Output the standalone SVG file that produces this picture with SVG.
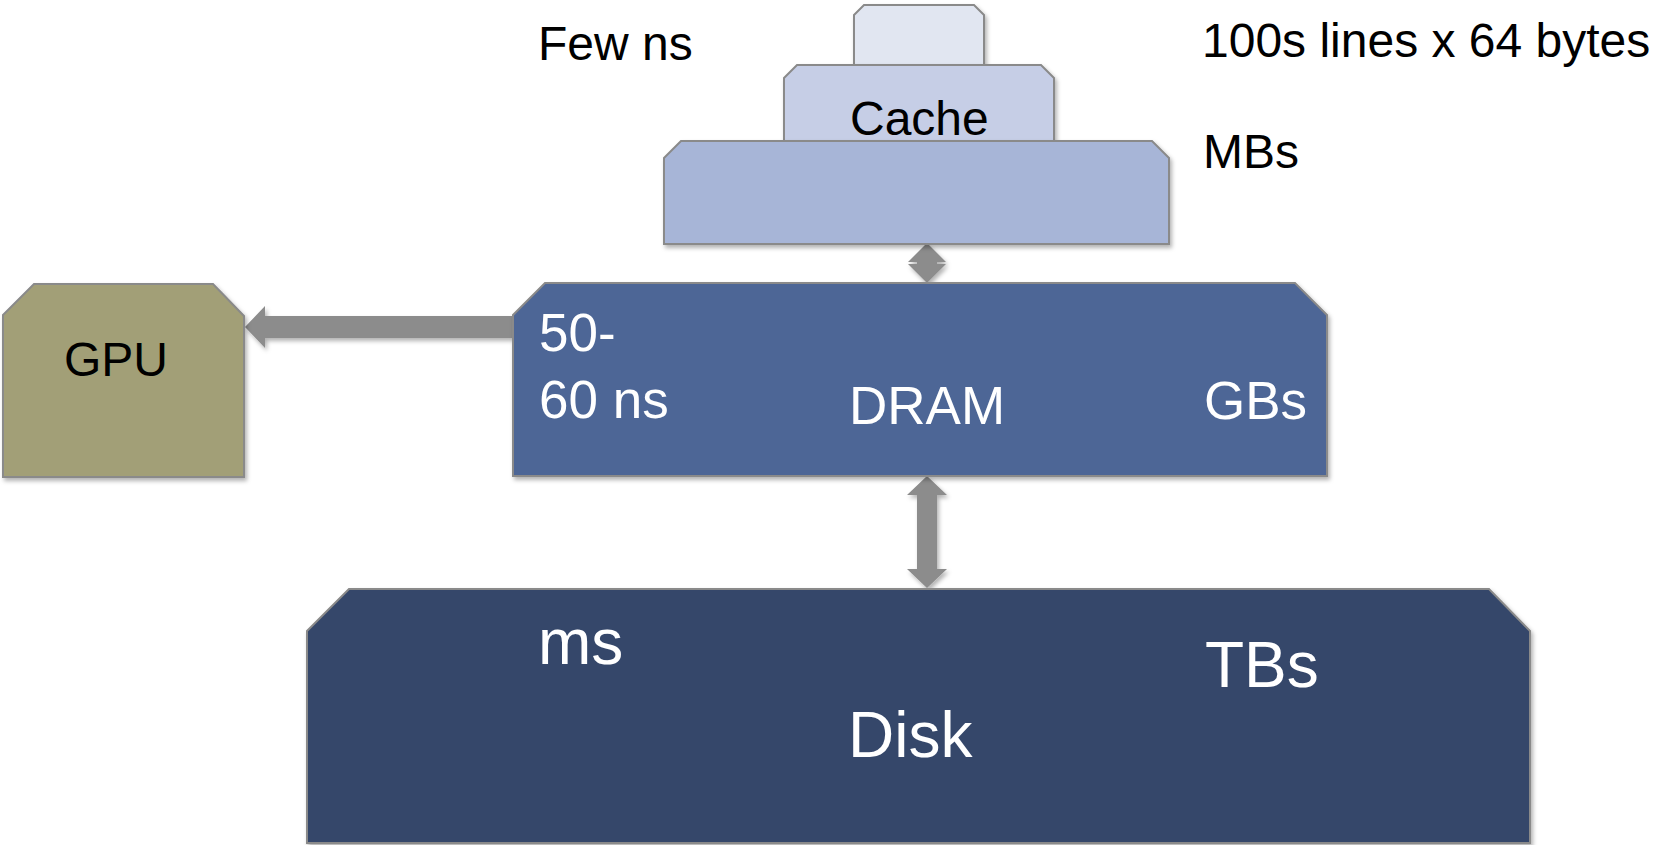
<svg xmlns="http://www.w3.org/2000/svg" width="1654" height="845" viewBox="0 0 1654 845">
  <style>
    .box { stroke: #8a8a8a; stroke-width: 2; filter: url(#shadow); }
    .lbl { font-family: "Liberation Sans", Arial, sans-serif; }
    .dark { fill: #000000; font-size: 48px; }
    .w53 { fill: #ffffff; font-size: 53px; }
    .w65 { fill: #ffffff; font-size: 64px; }
    .arrow { fill: #8c8c8c; filter: url(#shadow); }
  </style>
  <defs>
    <filter id="shadow" x="-10%" y="-10%" width="130%" height="130%">
      <feDropShadow dx="2" dy="3" stdDeviation="2" flood-color="#000000" flood-opacity="0.3"/>
    </filter>
  </defs>
  <rect width="1654" height="845" fill="#ffffff"/>

  <g id="connectors">
    <!-- DRAM to GPU -->
    <polygon class="arrow" points="513,316 265,316 265,306 245,327 265,348 265,338 513,338"/>
    <!-- Cache <-> DRAM -->
    <polygon class="arrow" points="927,243 946,262 937,262 937,264 946,264 927,283 908,264 917,264 917,262 908,262"/>
    <!-- DRAM <-> Disk -->
    <polygon class="arrow" points="927,476 947,495 937,495 937,569 947,569 927,588 907,569 917,569 917,495 907,495"/>
  </g>

  <g id="cache-l1">
    <polygon class="box" fill="#e1e6f1" points="854,15 864,5 974,5 984,15 984,65 854,65"/>
  </g>
  <g id="cache-l2">
    <polygon class="box" fill="#c6cee6" points="784,78 797,65 1041,65 1054,78 1054,141 784,141"/>
    <text class="lbl dark" x="850" y="135">Cache</text>
  </g>
  <g id="cache-l3">
    <polygon class="box" fill="#a7b5d7" points="664,158 681,141 1152,141 1169,158 1169,244 664,244"/>
  </g>

  <g id="gpu">
    <polygon class="box" fill="#a29f77" points="3,315 34,284 213,284 244,316 244,477 3,477"/>
    <text class="lbl dark" x="64" y="376">GPU</text>
  </g>

  <g id="dram">
    <polygon class="box" fill="#4e6696" points="513,315 545,283 1295,283 1327,315 1327,476 513,476"/>
    <text class="lbl w53" x="539" y="351">50-</text>
    <text class="lbl w53" x="539" y="418">60 ns</text>
    <text class="lbl w53" x="849" y="424">DRAM</text>
    <text class="lbl w53" x="1204" y="419">GBs</text>
  </g>

  <g id="disk">
    <polygon class="box" fill="#35476a" points="307,631 349,589 1489,589 1530,631 1530,843 307,843"/>
    <text class="lbl w65" x="538" y="664">ms</text>
    <text class="lbl w65" x="1205" y="687">TBs</text>
    <text class="lbl w65" x="848" y="757">Disk</text>
  </g>

  <g id="labels">
    <text class="lbl dark" x="538" y="60">Few ns</text>
    <text class="lbl dark" x="1202" y="57">100s lines x 64 bytes</text>
    <text class="lbl dark" x="1203" y="168">MBs</text>
  </g>
</svg>
